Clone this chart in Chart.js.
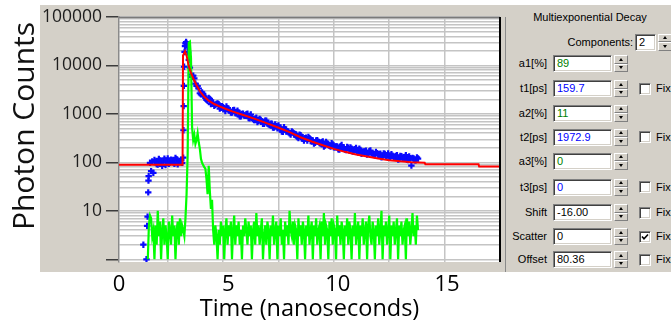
<!DOCTYPE html>
<html>
<head>
<meta charset="utf-8">
<script src="https://cdn.jsdelivr.net/npm/chart.js@4.4.1/dist/chart.umd.min.js"></script>
<style>
html,body{margin:0;padding:0;background:#fff;}
#wrap{position:relative;width:671px;height:324px;overflow:hidden;}
canvas{position:absolute;left:0;top:0;}
.sep{position:absolute;left:505px;top:17px;width:1px;height:255px;background:#8a8a8a;}
.panel{position:absolute;left:506px;top:5px;width:165px;height:267px;background:#d4d0c8;font:11px "Liberation Sans",Arial,sans-serif;color:#000;overflow:hidden;}
.ttl{position:absolute;left:0;top:5.5px;width:168px;text-align:center;line-height:13px;white-space:nowrap;}
.row{position:absolute;left:-1px;width:167px;height:17px;line-height:17px;white-space:nowrap;}
.lbl{position:absolute;left:0;width:42px;text-align:right;}
.clbl{position:absolute;left:0;width:128px;text-align:right;}
.box{position:absolute;left:48px;top:0;width:59px;height:17px;box-sizing:border-box;background:#fff;border-style:solid;border-width:1px;border-color:#808080 #fff #fff #808080;box-shadow:inset 1px 1px 0 #404040,inset -1px -1px 0 #d4d0c8;padding-left:3px;line-height:15px;}
.cbox{left:130px;width:21px;}
.spin{position:absolute;left:109px;top:0;width:14px;height:17px;}
.cspin{left:153px;}
.spin div{position:absolute;left:0;width:14px;height:8.5px;box-sizing:border-box;background:#d4d0c8;border-style:solid;border-width:1px;border-color:#fff #808080 #808080 #fff;}
.spin .up{top:0;}
.spin .dn{top:8.5px;}
.spin .up::after{content:'';position:absolute;left:3.5px;top:1.5px;width:0;height:0;border-left:2.5px solid transparent;border-right:2.5px solid transparent;border-bottom:3px solid #000;}
.spin .dn::after{content:'';position:absolute;left:3.5px;top:1.5px;width:0;height:0;border-left:2.5px solid transparent;border-right:2.5px solid transparent;border-top:3px solid #000;}
.chk{position:absolute;left:134px;top:2.5px;width:12px;height:12px;box-sizing:border-box;background:#fff;border-style:solid;border-width:1px;border-color:#808080 #fff #fff #808080;box-shadow:inset 1px 1px 0 #404040,inset -1px -1px 0 #d4d0c8;}
.chk svg{position:absolute;left:1px;top:1px;}
.fix{position:absolute;left:151px;}
.g{color:#008000;}
.bl{color:#0000ff;}
</style>
</head>
<body>
<div id="wrap">
<canvas id="chart" width="671" height="324"></canvas>
<div class="sep"></div>
<div class="panel">
  <div class="ttl">Multiexponential Decay</div>
  <div class="row" style="top:28.5px"><span class="clbl">Components:</span><div class="box cbox">2</div><div class="spin cspin"><div class="up"></div><div class="dn"></div></div></div>
  <div class="row" style="top:50px"><span class="lbl">a1[%]</span><div class="box g">89</div><div class="spin"><div class="up"></div><div class="dn"></div></div></div>
  <div class="row" style="top:75px"><span class="lbl">t1[ps]</span><div class="box bl">159.7</div><div class="spin"><div class="up"></div><div class="dn"></div></div><div class="chk"></div><span class="fix">Fix</span></div>
  <div class="row" style="top:99.5px"><span class="lbl">a2[%]</span><div class="box g">11</div><div class="spin"><div class="up"></div><div class="dn"></div></div></div>
  <div class="row" style="top:123.5px"><span class="lbl">t2[ps]</span><div class="box bl">1972.9</div><div class="spin"><div class="up"></div><div class="dn"></div></div><div class="chk"></div><span class="fix">Fix</span></div>
  <div class="row" style="top:147.5px"><span class="lbl">a3[%]</span><div class="box g">0</div><div class="spin"><div class="up"></div><div class="dn"></div></div></div>
  <div class="row" style="top:173.5px"><span class="lbl">t3[ps]</span><div class="box bl">0</div><div class="spin"><div class="up"></div><div class="dn"></div></div><div class="chk"></div><span class="fix">Fix</span></div>
  <div class="row" style="top:199px"><span class="lbl">Shift</span><div class="box">-16.00</div><div class="spin"><div class="up"></div><div class="dn"></div></div><div class="chk"></div><span class="fix">Fix</span></div>
  <div class="row" style="top:223px"><span class="lbl">Scatter</span><div class="box">0</div><div class="spin"><div class="up"></div><div class="dn"></div></div><div class="chk"><svg width="8" height="8" viewBox="0 0 8 8"><polyline points="1,3.5 3,5.8 7,1.5" fill="none" stroke="#000" stroke-width="1.6"/></svg></div><span class="fix">Fix</span></div>
  <div class="row" style="top:246px"><span class="lbl">Offset</span><div class="box">80.36</div><div class="spin"><div class="up"></div><div class="dn"></div></div><div class="chk"></div><span class="fix">Fix</span></div>
</div>
</div>
<script>
// ---------------- data ----------------
// measured decay (blue crosses): time in ns, photon counts
const decayTimes = [1.40,1.54,1.57,1.59,1.62,1.63,1.64,
  1.70,1.75,1.80,1.85,1.90,2.00,2.10,2.20,2.30,2.40,2.50,2.60,2.70,2.80,2.90,3.00,3.10,3.15,
  3.20,3.21,3.22,3.23,3.24,3.26,3.28,3.30,3.33,3.36,3.39,3.42,3.45,
  3.5,3.6,3.7,3.8,3.9,4.0,4.1,4.2,4.3,4.4,
  4.5,4.6,4.7,4.8,4.9,5.0,5.1,5.2,5.3,5.4,
  5.5,5.6,5.7,5.8,5.9,6.0,6.1,6.2,6.3,6.4,
  6.5,6.6,6.7,6.8,6.9,7.0,7.1,7.2,7.3,7.4,
  7.5,7.6,7.7,7.8,7.9,8.0,8.1,8.2,8.3,8.4,
  8.5,8.6,8.7,8.8,8.9,9.0,9.1,9.2,9.3,9.4,
  9.5,9.6,9.7,9.8,9.9,10.0,10.1,10.2,10.3,10.4,
  10.5,10.6,10.7,10.8,10.9,11.0,11.1,11.2,11.3,11.4,
  11.5,11.6,11.7,11.8,11.9,12.0,12.1,12.2,12.3,12.4,
  12.5,12.6,12.7,12.8,12.9,13.0,13.1,13.2,13.3,13.4,
  13.5,13.6,13.7,13.8,
  // in-between channels
  1.95,2.05,2.15,2.25,2.35,2.45,2.55,2.65,2.75,2.85,2.95,3.05,
  3.55,3.65,3.75,3.85,3.95,4.05,4.15,4.25,4.35,4.45,
  4.55,4.65,4.75,4.85,4.95,5.05,5.15,5.25,5.35,5.45,
  5.55,5.65,5.75,5.85,5.95,6.05,6.15,6.25,6.35,6.45,
  6.55,6.65,6.75,6.85,6.95,7.05,7.15,7.25,7.35,7.45,
  7.55,7.65,7.75,7.85,7.95,8.05,8.15,8.25,8.35,8.45,
  8.55,8.65,8.75,8.85,8.95,9.05,9.15,9.25,9.35,9.45,
  9.55,9.65,9.75,9.85,9.95,10.05,10.15,10.25,10.35,10.45,
  10.55,10.65,10.75,10.85,10.95,11.05,11.15,11.25,11.35,11.45,
  11.55,11.65,11.75,11.85,11.95,12.05,12.15,12.25,12.35,12.45,
  12.55,12.65,12.75,12.85,12.95,13.05,13.15,13.25,13.35,13.45,
  13.55,13.65,13.75];
const decayCounts = [2,1,4.9,7.6,24,42,52,
  98,66,104,61,112,92,118,97,108,88,121,99,110,94,116,103,112,98,
  125,460,1450,3800,9400,19000,25000,28500,30500,28000,24000,18500,13000,
  9000,5830,5390,3780,3350,2530,2590,2150,1860,2040,
  1680,1470,1610,1590,1340,1370,1140,1320,1190,1070,
  1215,1030,1070,890,1010,910,1005,817,847,744,
  832,725,751,623,726,635,586,626,525,556,
  580,480,428,482,441,399,436,376,377,317,
  364,306,315,283,314,284,245,285,267,244,
  270,223,245,221,248,204,213,187,215,201,
  185,207,176,191,178,199,160,181,162,169,
  145,171,155,144,165,143,151,132,149,139,
  130,147,124,135,114,136,125,130,113,132,
  86,120,110,120,
  // in-between channels
  105,90,109,85,119,102,93,114,100,124,91,107,
  6510,6160,4220,3730,2670,2790,2315,1950,2140,1600,
  1715,1535,1645,1290,1450,1260,1420,1215,1065,1195,
  1045,1160,890,1000,928,985,823,972,782,801,
  680,785,700,625,725,610,627,523,607,504,
  521,432,530,433,432,377,417,386,332,373,
  319,282,323,334,276,285,253,287,250,261,
  213,265,229,211,234,206,214,184,228,193,
  180,200,204,167,186,170,191,150,169,174,
  152,176,151,140,155,147,128,153,133,153,
  127,137,130,140,117,134,122,141,112,122,
  124,111,127];

// fitted curve (red line)
const fitTimes = [0.30,3.17,3.19,3.28,3.36,3.44,3.55,3.67,3.80,3.96,
  4.15,4.35,4.60,4.86,5.10,5.41,5.91,6.40,6.90,7.45,
  8.00,8.49,9.00,9.50,10.00,10.50,11.00,11.50,12.00,12.50,
  13.00,13.50,14.10,14.13,16.53,16.56,17.50];
const fitCounts = [89,89,16000,19500,15500,10000,7000,5200,3900,2900,
  2250,1880,1600,1420,1280,1130,950,800,660,530,
  420,330,270,225,190,165,146,132,120,111,
  105,101,98,92,92,82,82];

// instrument response (green line), one value per channel
const irfStart = 1.60;     // ns, first channel shown
const irfChannel = 0.05;   // ns per channel
const irfCounts = [1,5,8,7,3,4,1,5,2,10,3,6,1,4,7,2,5,3,1,6,4,2,8,3,5,1,4,6,2,7,3,5,4,
  3,7,22,150,29500,31000,14000,520,290,370,240,290,400,260,190,118,98,88,80,74,45,22,85,26,11,17,4,2,5,
  3,1,4,2,6,3,5,1,4,7,
  2,5,3,6,1,4,8,2,5,3,
  6,2,4,1,5,3,7,4,2,6,
  3,5,1,4,6,2,9,3,5,2,
  4,7,1,3,5,2,6,4,1,5,
  3,8,2,4,6,1,5,3,7,2,
  4,1,6,3,5,2,10,4,3,6,
  2,5,4,1,7,3,5,2,6,4,
  1,5,3,8,2,4,6,1,5,3,
  7,2,4,5,1,6,3,9,2,5,
  4,1,6,3,7,2,5,4,1,8,
  3,5,2,6,4,1,5,3,7,2,
  6,4,1,5,3,9,2,4,6,1,
  5,3,7,2,4,6,1,5,8,3,
  2,6,4,1,5,3,7,2,4,10,
  1,5,3,6,2,4,8,1,5,3,
  6,2,4,7,1,5,3,6,2,4,
  5,1,7,3,6,2,4,9,3,5,
  2,8,4];

// axes
const decadeValues = [1, 10, 100, 1000, 10000, 100000];
const decadeLabels = ['', '10', '100', '1000', '10000', '100000'];
const minorMantissas = [2, 3, 4, 5, 6, 7, 8, 9];
const timeTickValues = [0, 5, 10, 15];
const timeTickLabels = ['0', '5', '10', '15'];
const xTitle = 'Time (nanoseconds)';
const yTitle = 'Photon Counts';

// ---------------- build ----------------
const irfTimes = irfCounts.map((_, i) => +(irfStart + i * irfChannel).toFixed(2));
const toPts = (xs, ys) => xs.map((x, i) => ({ x: x, y: ys[i] }));
const yGrid = decadeValues.flatMap(d => d === 100000 ? [d] : [d].concat(minorMantissas.map(m => m * d)));

Chart.defaults.font.family = '"Open Sans", "Noto Sans", sans-serif';

const framePlugin = {
  id: 'frame',
  beforeDraw(chart) {
    const { ctx, chartArea: a } = chart;
    ctx.save();
    ctx.fillStyle = '#ffffff';
    ctx.fillRect(0, 0, chart.width, chart.height);
    ctx.fillStyle = '#d4d0c8';
    ctx.fillRect(a.left - 79, a.top - 12, a.right - a.left + 86, a.bottom - a.top + 22);
    ctx.fillStyle = '#ffffff';
    ctx.fillRect(a.left, a.top, a.right - a.left, a.bottom - a.top);
    ctx.restore();
  },
  afterDraw(chart) {
    const { ctx, chartArea: a } = chart;
    ctx.save();
    ctx.strokeStyle = '#7a7a7a';
    ctx.lineWidth = 1.5;
    ctx.beginPath();
    ctx.moveTo(a.left, a.top + 0.5);
    ctx.lineTo(a.right, a.top + 0.5);
    ctx.stroke();
    ctx.strokeStyle = '#000000';
    ctx.lineWidth = 2;
    ctx.beginPath();
    ctx.moveTo(a.right, a.top);
    ctx.lineTo(a.right, a.bottom);
    ctx.stroke();
    ctx.translate(a.left - 85, a.top + 109);
    ctx.rotate(-Math.PI / 2);
    ctx.font = '30px "Open Sans", "Noto Sans", sans-serif';
    ctx.fillStyle = '#111111';
    ctx.textAlign = 'center';
    ctx.textBaseline = 'alphabetic';
    ctx.fillText(yTitle, 0, 0);
    ctx.restore();
  }
};

new Chart(document.getElementById('chart'), {
  type: 'scatter',
  data: {
    datasets: [
      { label: 'Fit', data: toPts(fitTimes, fitCounts), showLine: true, borderColor: '#ff0000', borderWidth: 2, pointRadius: 0, tension: 0, order: 1 },
      { label: 'IRF', data: toPts(irfTimes, irfCounts), showLine: true, borderColor: '#00ff00', borderWidth: 2.2, pointRadius: 0, tension: 0, order: 2 },
      { label: 'Decay', data: toPts(decayTimes, decayCounts), showLine: false, pointStyle: 'cross', pointRadius: 3.2, pointBorderWidth: 2.2, borderColor: '#0a0aff', backgroundColor: '#0a0aff', order: 3 }
    ]
  },
  options: {
    responsive: false,
    animation: false,
    devicePixelRatio: 1,
    events: [],
    layout: { padding: { left: 0, right: 171, top: 17, bottom: 0 } },
    plugins: { legend: { display: false }, tooltip: { enabled: false } },
    scales: {
      x: {
        type: 'linear', position: 'bottom', min: 0.3, max: 17.5, weight: 0,
        ticks: { display: false, stepSize: 2.5, includeBounds: false },
        grid: { color: '#c4c4c4', lineWidth: 1.5, drawTicks: false },
        border: { display: false },
        afterFit(s) { s.height = 0; }
      },
      x2: {
        type: 'linear', position: 'bottom', min: 0, max: 17.42, weight: 1,
        afterBuildTicks(s) { s.ticks = timeTickValues.map(v => ({ value: v })); },
        ticks: {
          padding: 10, maxRotation: 0, autoSkip: false, color: '#000',
          font: { size: 22 },
          callback: v => { const i = timeTickValues.indexOf(v); return i >= 0 ? timeTickLabels[i] : ''; }
        },
        grid: { display: false, drawTicks: false },
        border: { display: false },
        title: { display: true, text: xTitle, color: '#000', font: { size: 23.5 }, padding: { top: 0, bottom: 0.5 } },
        afterFit(s) { s.height = 62; }
      },
      y: {
        type: 'logarithmic', position: 'left', min: 0.88, max: 100000,
        afterBuildTicks(s) { s.ticks = yGrid.map(v => ({ value: v })); },
        ticks: {
          autoSkip: false, padding: 4, color: '#1e1e1e', font: { size: 17.5 },
          callback: v => { const i = decadeValues.indexOf(v); return i >= 0 ? decadeLabels[i] : ''; }
        },
        grid: {
          color: '#c4c4c4', lineWidth: 1.5, tickLength: 13, tickWidth: 1.5,
          tickColor: ctx => (ctx.tick && decadeValues.indexOf(ctx.tick.value) >= 0) ? '#3c3c3c' : 'rgba(0,0,0,0)'
        },
        border: { display: true, color: '#8a8a8a', width: 1.5 },
        afterFit(s) { s.width = 119; }
      }
    }
  },
  plugins: [framePlugin]
});
</script>
</body>
</html>
